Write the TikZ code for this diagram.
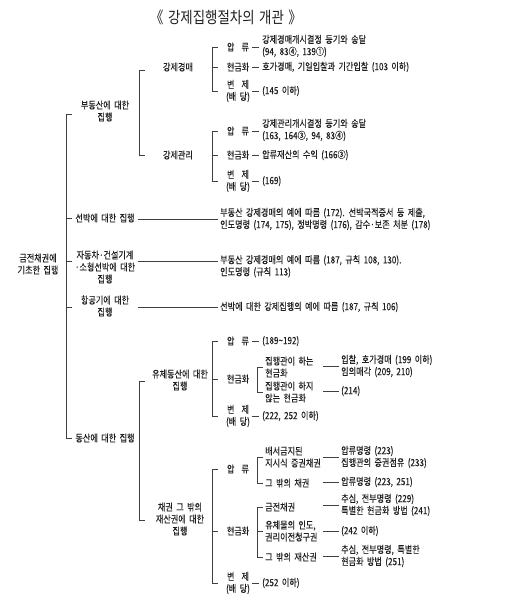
\documentclass[tikz,border=0pt]{standalone}
\usepackage{fontspec}
\setmainfont{Noto Sans CJK KR}[FakeStretch=0.82,FakeBold=0.1]
\newfontfamily\krplain{Noto Sans CJK KR}[FakeStretch=0.84]
\definecolor{ink}{HTML}{202020}
\definecolor{rulec}{HTML}{404040}
\newcommand\krbody{\fontsize{9.9}{12}\selectfont\spaceskip 3.4pt plus 1pt\relax}
\newcommand\krtitle{\krplain\fontsize{16}{18}\selectfont\spaceskip 4.5pt\relax}
\begin{document}
\begin{tikzpicture}[x=1pt,y=-1pt,
  txt/.style={inner sep=0pt, font=\krbody, text=ink, align=center},
  lt/.style={txt, anchor=west, align=left},
  ln/.style={draw=rulec, line width=0.6pt}]
\useasboundingbox[fill=white] (0,0) rectangle (505,605);

\node[txt, font=\krtitle] (title) at (226,17) {《 강제집행절차의 개관 》};

% root
\node[txt] (root) at (38,264) {금전채권에\\기초한 집행};

% level 2
\node[txt] (bu) at (105,111) {부동산에 대한\\집행};
\node[txt] (sb) at (105,218) {선박에 대한 집행};
\node[txt] (ja) at (105,267) {자동차·건설기계\\·소형선박에 대한\\집행};
\node[txt] (hg) at (105,306) {항공기에 대한\\집행};
\node[txt] (ds) at (105,438) {동산에 대한 집행};

% main bracket
\coordinate (mT) at (66,114); \coordinate (mB) at (66,438);
\coordinate (mS) at (66,218); \coordinate (mJ) at (66,261); \coordinate (mH) at (66,307);
\draw[ln] ([xshift=6pt]mT) -- (mT) -- (mB) -- ([xshift=6pt]mB);
\foreach \c in {mS,mJ,mH} \draw[ln] (\c) -- ([xshift=6pt]\c);

% ship / car / aircraft
\node[lt] (sbt) at (220,219) {부동산 강제경매의 예에 따름 (172). 선박국적증서 등 제출,\\인도명령 (174, 175), 정박명령 (176), 감수·보존 처분 (178)};
\node[lt, anchor=north west] (jat) at (220,255) {부동산 강제경매의 예에 따름 (187, 규칙 108, 130).\\인도명령 (규칙 113)};
\node[lt] (hgt) at (220,307) {선박에 대한 강제집행의 예에 따름 (187, 규칙 106)};
\coordinate (sbL) at (138,219); \coordinate (jaL) at (138,261); \coordinate (jaR) at (218,261); \coordinate (hgL) at (138,307);
\draw[ln] (sbL) -- ([xshift=-2pt]sbt.west);
\draw[ln] (jaL) -- (jaR);
\draw[ln] (hgL) -- ([xshift=-2pt]hgt.west);

% level-2 brackets
\coordinate (bT) at (139,70); \coordinate (bB) at (139,155);
\draw[ln] ([xshift=6pt]bT) -- (bT) -- (bB) -- ([xshift=6pt]bB);
\coordinate (dT) at (139,381); \coordinate (dB) at (139,520);
\draw[ln] ([xshift=6pt]dT) -- (dT) -- (dB) -- ([xshift=6pt]dB);

% level 3
\node[txt] (gm) at (178,67) {강제경매};
\node[txt] (gg) at (178,155) {강제관리};
\node[txt] (yc) at (180,380) {유체동산에 대한\\집행};
\node[txt] (cg) at (180,519) {채권 그 밖의\\재산권에 대한\\집행};

% level-3 brackets
\coordinate (g1T) at (212,47); \coordinate (g1M) at (212,67); \coordinate (g1B) at (212,91);
\coordinate (g2T) at (212,131); \coordinate (g2M) at (212,155); \coordinate (g2B) at (212,181);
\coordinate (y1T) at (212,341); \coordinate (y1M) at (212,379); \coordinate (y1B) at (212,416);
\coordinate (c1T) at (212,469); \coordinate (c1M) at (212,531); \coordinate (c1B) at (212,583);
\foreach \a/\m/\b in {g1T/g1M/g1B, g2T/g2M/g2B, y1T/y1M/y1B, c1T/c1M/c1B}{
  \draw[ln] ([xshift=6pt]\a) -- (\a) -- (\b) -- ([xshift=6pt]\b);
  \draw[ln] (\m) -- ([xshift=6pt]\m);
}

% level 4 labels
\node[txt] (g1a) at (238,47) {압\hspace{7pt}류};
\node[txt] (g1b) at (238,67) {현금화};
\node[txt] (g1c) at (238,91) {변\hspace{7pt}제\\(배 당)};
\node[txt] (g2a) at (238,131) {압\hspace{7pt}류};
\node[txt] (g2b) at (238,155) {현금화};
\node[txt] (g2c) at (238,181) {변\hspace{7pt}제\\(배 당)};
\node[txt] (y1a) at (238,341) {압\hspace{7pt}류};
\node[txt] (y1b) at (238,379) {현금화};
\node[txt] (y1c) at (238,416) {변\hspace{7pt}제\\(배 당)};
\node[txt] (c1a) at (238,469) {압\hspace{7pt}류};
\node[txt] (c1b) at (238,531) {현금화};
\node[txt] (c1c) at (238,583) {변\hspace{7pt}제\\(배 당)};

% level 4 results (dash + text)
\node[lt] (g1at) at (262,46) {강제경매개시결정 등기와 송달\\(94, 83④, 139①)};
\node[lt] (g1bt) at (262,67) {호가경매, 기일입찰과 기간입찰 (103 이하)};
\node[lt] (g1ct) at (262,91) {(145 이하)};
\node[lt] (g2at) at (262,130) {강제관리개시결정 등기와 송달\\(163, 164③, 94, 83④)};
\node[lt] (g2bt) at (262,155) {압류재산의 수익 (166③)};
\node[lt] (g2ct) at (262,181) {(169)};
\node[lt] (y1at) at (262,341) {(189\textasciitilde192)};
\node[lt] (y1ct) at (262,416) {(222, 252 이하)};
\node[lt] (c1ct) at (262,583) {(252 이하)};
\foreach \s/\t in {g1a/g1at, g1b/g1bt, g1c/g1ct, g2a/g2at, g2b/g2bt, g2c/g2ct, y1a/y1at, y1c/y1ct, c1c/c1ct}
  \draw[ln] ([xshift=-10pt]\t.west |- \s) -- ([xshift=-3pt]\t.west |- \s);

% inner brackets: 유체동산 현금화
\coordinate (iyT) at (257,367); \coordinate (iyB) at (257,392);
\draw[ln] ([xshift=6pt]iyT) -- (iyT) -- (iyB) -- ([xshift=6pt]iyB);
\node[lt] (iy1) at (265,367) {집행관이 하는\\현금화};
\node[lt] (iy2) at (265,392) {집행관이 하지\\않는 현금화};
\node[lt] (iy1t) at (341,366) {입찰, 호가경매 (199 이하)\\임의매각 (209, 210)};
\node[lt] (iy2t) at (341,391) {(214)};

% inner brackets: 채권 압류
\coordinate (icT) at (257,457); \coordinate (icB) at (257,483);
\draw[ln] ([xshift=6pt]icT) -- (icT) -- (icB) -- ([xshift=6pt]icB);
\node[lt] (ic1) at (265,457) {배서금지된\\지시식 증권채권};
\node[lt] (ic2) at (265,483) {그 밖의 채권};
\node[lt] (ic1t) at (341,457) {압류명령 (223)\\집행관의 증권점유 (233)};
\node[lt] (ic2t) at (341,482) {압류명령 (223, 251)};

% inner brackets: 채권 현금화
\coordinate (ihT) at (257,507); \coordinate (ihM) at (257,531); \coordinate (ihB) at (257,557);
\draw[ln] ([xshift=6pt]ihT) -- (ihT) -- (ihB) -- ([xshift=6pt]ihB);
\draw[ln] (ihM) -- ([xshift=6pt]ihM);
\node[lt] (ih1) at (265,507) {금전채권};
\node[lt] (ih2) at (265,531) {유체물의 인도,\\권리이전청구권};
\node[lt] (ih3) at (265,557) {그 밖의 재산권};
\node[lt] (ih1t) at (341,505) {추심, 전부명령 (229)\\특별한 현금화 방법 (241)};
\node[lt] (ih2t) at (341,531) {(242 이하)};
\node[lt] (ih3t) at (341,556) {추심, 전부명령, 특별한\\현금화 방법 (251)};

\foreach \t in {iy1t, iy2t, ic1t, ic2t, ih1t, ih2t, ih3t}
  \draw[ln] ([xshift=-18pt]\t.west) -- ([xshift=-2pt]\t.west);
\end{tikzpicture}
\end{document}
